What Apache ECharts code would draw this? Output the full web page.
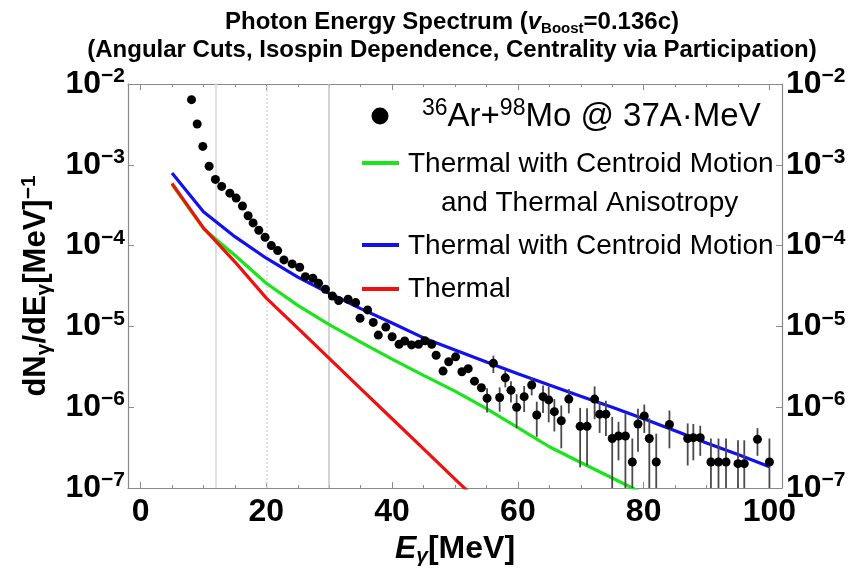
<!DOCTYPE html>
<html><head><meta charset="utf-8">
<script src="https://cdn.jsdelivr.net/npm/echarts@6/dist/echarts.min.js"></script>
<style>html,body{margin:0;padding:0;background:#fff}#c{width:853px;height:573px}</style>
</head><body><div id="c"></div>
<script>
// ---- data ----
const energies = [8.1, 9.0, 9.9, 10.9, 11.9, 12.9, 14.2, 15.2, 16.2, 17.1,
  17.9, 18.8, 19.8, 20.8, 21.8, 22.8, 24.1, 25.3, 26.2, 27.4,
  28.3, 29.4, 30.5, 31.5, 33.0, 34.2, 34.9, 36.1, 37.0, 37.8,
  39.0, 40.0, 41.1, 42.0, 43.1, 44.2, 45.2, 46.3, 47.0, 48.1,
  49.0, 50.1, 51.1, 52.1, 53.1, 54.2, 55.1, 56.1, 57.1, 58.0,
  58.9, 59.8, 61.0, 62.2, 63.0, 64.0, 64.9, 65.8, 66.9, 68.1,
  69.9, 71.0, 72.2, 73.0, 74.0, 75.0, 76.0, 77.1, 78.2, 79.1,
  80.1, 80.9, 82.0, 84.1, 87.0, 87.9, 89.0, 90.7, 91.9, 93.1,
  95.0, 96.0, 98.1, 100.0];
const yields = [6.4e-3, 3.2e-3, 1.69e-3, 9.6e-4, 6.6e-4, 5.4e-4, 4.46e-4, 3.87e-4, 3.09e-4, 2.34e-4,
  1.91e-4, 1.55e-4, 1.27e-4, 1.0e-4, 8.67e-5, 6.65e-5, 5.93e-5, 5.4e-5, 4.13e-5, 3.94e-5,
  3.42e-5, 2.88e-5, 2.38e-5, 2.09e-5, 2.17e-5, 1.97e-5, 1.26e-5, 1.6e-5, 1.12e-5, 7.8e-6,
  9.8e-6, 7.45e-6, 6.0e-6, 6.6e-6, 5.9e-6, 6.0e-6, 6.65e-6, 6.0e-6, 4.4e-6, 2.8e-6,
  3.65e-6, 4.2e-6, 2.75e-6, 3.0e-6, 2.1e-6, 1.74e-6, 1.29e-6, 3.5e-6, 1.32e-6, 2.31e-6,
  1.62e-6, 1.0e-6, 1.35e-6, 1.88e-6, 8.0e-7, 1.35e-6, 1.23e-6, 8.8e-7, 6.8e-7, 1.26e-6,
  5.8e-7, 5.8e-7, 1.26e-6, 8.2e-7, 8.2e-7, 4.1e-7, 4.4e-7, 4.4e-7, 2.1e-7, 6.2e-7,
  7.8e-7, 4.1e-7, 2.1e-7, 6.1e-7, 4.1e-7, 4.2e-7, 4.2e-7, 2.1e-7, 2.1e-7, 2.1e-7,
  2.0e-7, 2.0e-7, 4.0e-7, 2.1e-7];
const errors = [0, 0, 0, 0, 0, 0, 0, 0, 0, 0,
  0, 0, 0, 0, 0, 0, 0, 0, 0, 0,
  0, 0, 0, 0, 0, 0, 0, 0, 0, 0,
  0, 0, 0, 0, 0, 0, 0, 0, 0, 0,
  0, 0, 0, 0, 0, 0, 4.3e-7, 8.5e-7, 4.4e-7, 5.5e-7,
  4.8e-7, 4.5e-7, 4.8e-7, 4.8e-7, 3.7e-7, 5.0e-7, 5.8e-7, 3.8e-7, 3.7e-7, 4.2e-7,
  4.0e-7, 3.9e-7, 5.5e-7, 3.4e-7, 3.8e-7, 3.5e-7, 2.2e-7, 4.0e-7, 2.0e-7, 3.4e-7,
  3.0e-7, 3.2e-7, 2.6e-7, 3.0e-7, 2.2e-7, 2.0e-7, 1.7e-7, 2.0e-7, 2.0e-7, 2.0e-7,
  1.9e-7, 1.9e-7, 1.5e-7, 2.0e-7];
const curveE = [5, 10, 15, 20, 25, 30, 35, 40, 45, 50, 55, 60, 65, 70, 75, 80, 85, 90, 95, 100];
const thermalCentroidAniso = [5.7e-4, 1.62e-4, 7.6e-5, 3.42e-5, 1.82e-5, 1.05e-5, 6.4e-6, 3.94e-6, 2.48e-6, 1.58e-6,
  9.6e-7, 5.6e-7, 3.24e-7, 2.07e-7, 1.33e-7, 8.5e-8];
const thermalCentroid = [7.9e-4, 2.63e-4, 1.29e-4, 6.98e-5, 4.07e-5, 2.57e-5, 1.66e-5, 1.10e-5, 7.2e-6, 5.1e-6,
  3.63e-6, 2.6e-6, 1.88e-6, 1.37e-6, 1.0e-6, 7.2e-7, 5.1e-7, 3.6e-7, 2.6e-7, 1.83e-7];
const thermal = [5.9e-4, 1.66e-4, 6.3e-5, 2.24e-5, 9.5e-6, 4.03e-6, 1.7e-6, 7.2e-7, 3.05e-7, 1.29e-7, 5.5e-8];
const refLinesX = [12, 20, 30];
const legendLabels = ['Thermal with Centroid Motion', 'and Thermal Anisotropy', 'Thermal with Centroid Motion', 'Thermal'];

const FONT = '"Liberation Sans", Arial, sans-serif';
const chart = echarts.init(document.getElementById('c'), null, {renderer: 'canvas'});

function pairs(xs, ys) { return ys.map((v, i) => [xs[i], v]); }
function yLabel(v) {
  const e = Math.round(Math.log10(v));
  return '{b|10}{s|' + (e < 0 ? '\u2212' + (-e) : e) + '}';
}
const yRich = {
  b: {fontSize: 32, fontWeight: 'bold', fontFamily: FONT, color: '#000', lineHeight: 36},
  s: {fontSize: 21, fontWeight: 'bold', fontFamily: FONT, color: '#000', verticalAlign: 'top', lineHeight: 20}
};
const axisGray = '#8a8a8a';
const axisLineCfg = {show: true, onZero: false, lineStyle: {color: axisGray, width: 1.2}};

const option = {
  backgroundColor: '#fff',
  animation: false,
  title: [
    {
      text: '{b|Photon Energy Spectrum (}{i|v}{sub|Boost}{b|=0.136c)}',
      left: 447, top: 3, textAlign: 'center',
      textStyle: {rich: {
        b: {fontSize: 24, fontWeight: 'bold', fontFamily: FONT, color: '#000', lineHeight: 28},
        i: {fontSize: 24, fontWeight: 'bold', fontStyle: 'italic', fontFamily: FONT, color: '#000', lineHeight: 28},
        sub: {fontSize: 15, fontWeight: 'bold', fontFamily: FONT, color: '#000', verticalAlign: 'bottom', lineHeight: 20}
      }}
    },
    {
      text: '(Angular Cuts, Isospin Dependence, Centrality via Participation)',
      left: 447, top: 33, textAlign: 'center',
      textStyle: {fontSize: 24, fontWeight: 'bold', fontFamily: FONT, color: '#000'}
    }
  ],
  grid: {left: 128, right: 71, top: 84, bottom: 85, containLabel: false},
  xAxis: [
    {
      type: 'value', min: -2, max: 102, position: 'bottom',
      axisLine: axisLineCfg,
      axisTick: {show: true, inside: true, length: 6, lineStyle: {color: axisGray}},
      minorTick: {show: true, splitNumber: 4, length: 3, lineStyle: {color: axisGray}},
      splitLine: {show: false},
      axisLabel: {fontSize: 32, fontWeight: 'bold', fontFamily: FONT, color: '#000', margin: 8,
        showMinLabel: false, showMaxLabel: false},
      name: '{i|E}{s|\u03b3}{b|[MeV]}',
      nameLocation: 'middle', nameGap: 43,
      nameTextStyle: {rich: {
        i: {fontSize: 32, fontWeight: 'bold', fontStyle: 'italic', fontFamily: FONT, color: '#000', lineHeight: 36},
        s: {fontSize: 21, fontWeight: 'bold', fontStyle: 'italic', fontFamily: FONT, color: '#000', verticalAlign: 'bottom', lineHeight: 26},
        b: {fontSize: 32, fontWeight: 'bold', fontFamily: FONT, color: '#000', lineHeight: 36}
      }}
    },
    {
      type: 'value', min: -2, max: 102, position: 'top',
      axisLine: axisLineCfg,
      axisTick: {show: true, inside: true, length: 6, lineStyle: {color: axisGray}},
      minorTick: {show: true, splitNumber: 4, length: 3, lineStyle: {color: axisGray}},
      splitLine: {show: false},
      axisLabel: {show: false}
    }
  ],
  yAxis: [
    {
      type: 'log', logBase: 10, min: 1e-7, max: 1e-2, position: 'left',
      axisLine: axisLineCfg,
      axisTick: {show: true, inside: true, length: 6, lineStyle: {color: axisGray}},
      splitLine: {show: false},
      axisLabel: {formatter: yLabel, rich: yRich, margin: 3},
      name: '{b|dN}{s|\u03b3}{b|/dE}{s|\u03b3}{b|[MeV]}{p|\u22121}',
      nameLocation: 'middle', nameGap: 70,
      nameTextStyle: {rich: {
        b: {fontSize: 31, fontWeight: 'bold', fontFamily: FONT, color: '#000', lineHeight: 36},
        s: {fontSize: 21, fontWeight: 'bold', fontFamily: FONT, color: '#000', verticalAlign: 'bottom', lineHeight: 26},
        p: {fontSize: 21, fontWeight: 'bold', fontFamily: FONT, color: '#000', verticalAlign: 'top', lineHeight: 22}
      }}
    },
    {
      type: 'log', logBase: 10, min: 1e-7, max: 1e-2, position: 'right',
      axisLine: axisLineCfg,
      axisTick: {show: true, inside: true, length: 6, lineStyle: {color: axisGray}},
      splitLine: {show: false},
      axisLabel: {formatter: yLabel, rich: yRich, margin: 4}
    }
  ],
  series: [
    {
      type: 'line', data: [], silent: true, z: 1,
      markLine: {
        silent: true, z: 1, symbol: ['none', 'none'], label: {show: false}, animation: false,
        data: [
          {xAxis: refLinesX[0], lineStyle: {color: '#d4d4d4', width: 1.5, type: 'solid'}},
          {xAxis: refLinesX[1], lineStyle: {color: '#d8d8d8', width: 1.5, type: [2, 2]}},
          {xAxis: refLinesX[2], lineStyle: {color: '#c4c4c4', width: 1.5, type: 'solid'}}
        ]
      }
    },
    {
      name: legendLabels[0], type: 'line', data: pairs(curveE, thermalCentroidAniso),
      showSymbol: false, clip: true, z: 2,
      lineStyle: {color: '#19e619', width: 3.2}
    },
    {
      name: legendLabels[2], type: 'line', data: pairs(curveE, thermalCentroid),
      showSymbol: false, clip: true, z: 2,
      lineStyle: {color: '#1010f0', width: 3.2}
    },
    {
      name: legendLabels[3], type: 'line', data: pairs(curveE, thermal),
      showSymbol: false, clip: true, z: 2,
      lineStyle: {color: '#f01010', width: 3.2}
    },
    {
      type: 'custom', z: 3, clip: true,
      data: energies.map((e, i) => [e, yields[i], errors[i]]).filter(d => d[2] > 0),
      renderItem: function (params, api) {
        const x = api.value(0), y = api.value(1), s = api.value(2);
        const cs = params.coordSys;
        const t = api.coord([x, y + s]);
        const lo = y - s;
        let yb = lo > 0 ? api.coord([x, lo])[1] : cs.y + cs.height;
        yb = Math.min(yb, cs.y + cs.height);
        return {type: 'line', shape: {x1: t[0], y1: t[1], x2: t[0], y2: yb},
          style: {stroke: '#4a4a4a', lineWidth: 1.8}};
      }
    },
    {
      type: 'scatter', z: 4, data: pairs(energies, yields),
      symbol: 'circle', symbolSize: 9, itemStyle: {color: '#000', opacity: 1}
    }
  ],
  graphic: [
    {type: 'circle', shape: {cx: 380, cy: 116, r: 8.5}, style: {fill: '#000'}, z: 10},
    {type: 'text', left: 422, top: 97, z: 10, style: {
      text: '{t|}{p|36}{t|Ar+}{p|98}{t|Mo @ 37A\u00b7MeV}',
      rich: {
        t: {fontSize: 33, fontFamily: FONT, fill: '#000', lineHeight: 40},
        p: {fontSize: 23, fontFamily: FONT, fill: '#000', verticalAlign: 'top', lineHeight: 22}
      }
    }},
    {type: 'line', shape: {x1: 362, y1: 163, x2: 399, y2: 163}, style: {stroke: '#19e619', lineWidth: 4}, z: 10},
    {type: 'text', left: 408, top: 150, z: 10, style: {text: legendLabels[0], font: '28px ' + FONT, fill: '#000'}},
    {type: 'text', left: 441, top: 189, z: 10, style: {text: legendLabels[1], font: '28px ' + FONT, fill: '#000'}},
    {type: 'line', shape: {x1: 362, y1: 245, x2: 399, y2: 245}, style: {stroke: '#1010f0', lineWidth: 4}, z: 10},
    {type: 'text', left: 408, top: 232, z: 10, style: {text: legendLabels[2], font: '28px ' + FONT, fill: '#000'}},
    {type: 'line', shape: {x1: 362, y1: 289, x2: 399, y2: 289}, style: {stroke: '#f01010', lineWidth: 4}, z: 10},
    {type: 'text', left: 408, top: 275, z: 10, style: {text: legendLabels[3], font: '28px ' + FONT, fill: '#000'}}
  ]
};
chart.setOption(option);
</script>
</body></html>
